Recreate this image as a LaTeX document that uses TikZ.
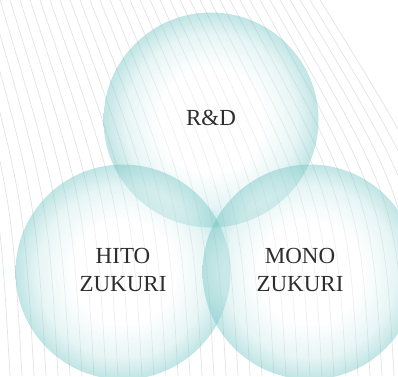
\documentclass[tikz,border=0pt]{standalone}
\usepackage{fontspec}
\setmainfont{Liberation Serif}
\usepackage{xcolor}
\usetikzlibrary{positioning}

\definecolor{bubbleteal}{RGB}{100,190,190}
\definecolor{inkgray}{RGB}{45,45,45}
\pgfdeclareradialshading{bubbleshade}{\pgfpoint{0bp}{0bp}}{color(0bp)=(white); color(12bp)=(white); color(20bp)=(bubbleteal!35!white); color(25bp)=(bubbleteal!90!white); color(50bp)=(bubbleteal)}

\begin{document}
\begin{tikzpicture}[x=1pt, y=-1pt,
		bgline/.style={draw=black!11, line width=0.7pt},
		bubble/.style={circle, minimum size=215pt, inner sep=0pt, shading=bubbleshade, fill opacity=0.45},
		caption/.style={text=inkgray, align=center, font=\fontsize{23}{28}\selectfont}]
		\useasboundingbox (0,0) rectangle (398,376);
		\clip (0,0) rectangle (398,376);

		% background strokes
		\foreach \a in {-100,-90,...,320}
			\draw[bgline] (\a,0) .. controls ({\a+60+0.2*\a},200) .. ({\a+70+0.2*\a},376);

		\node[bubble] (rd) at (211,120) {};
		\node[bubble] (hito) at (123,272) {};
		\node[bubble] (mono) at (310,272) {};

		% labels
		\node[caption] (rdtext) at ([yshift=2pt]rd.center) {R\&D};
		\node[caption] (hitotext) at ([yshift=2pt]hito.center) {HITO\\ZUKURI};
		\node[caption] (monotext) at ([shift={(-10pt,2pt)}]mono.center) {MONO\\ZUKURI};
	\end{tikzpicture}
\end{document}
